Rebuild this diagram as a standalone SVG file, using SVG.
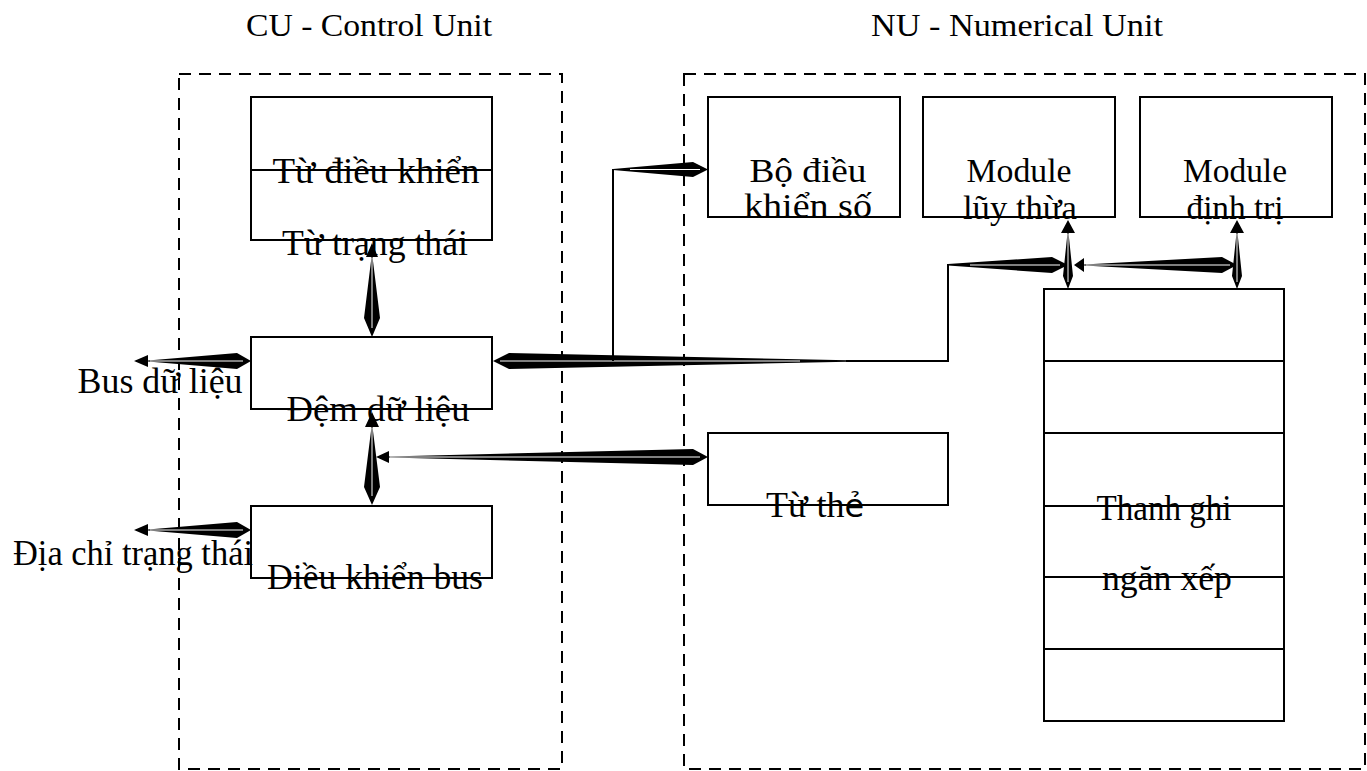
<svg xmlns="http://www.w3.org/2000/svg" width="1367" height="771" viewBox="0 0 1367 771">
<style>
.t{font-family:"Liberation Serif","DejaVu Serif",serif;font-size:36px;fill:#000;text-anchor:middle}
.h{font-size:32px}
.m{font-size:33px}
.s{font-family:"DejaVu Sans",sans-serif;font-size:32px}
.box{fill:none;stroke:#000;stroke-width:2}
.dash{fill:none;stroke:#000;stroke-width:2;stroke-dasharray:12 8}
.arr{fill:#000;stroke:none}
.hl{stroke:#fff;stroke-width:1;fill:none}
.ln{stroke:#000;stroke-width:2;fill:none}
</style>
<rect width="1367" height="771" fill="#fff"/>
<g id="titles">
<text class="t h" x="369" y="36" textLength="246" lengthAdjust="spacingAndGlyphs">CU - Control Unit</text>
<text class="t h" x="1017" y="36" textLength="292" lengthAdjust="spacingAndGlyphs">NU - Numerical Unit</text>
</g>
<g id="cu-frame"><rect class="dash" x="179" y="74" width="383" height="695"/></g>
<g id="nu-frame"><rect class="dash" x="684" y="74" width="681" height="695"/></g>

<g id="connectors">
<polygon class="arr" points="372,243 366,257 371.5,257 364,318 372,337 380,318 372.5,257 378,257"/>
<line class="hl" x1="372" y1="258" x2="372" y2="328"/>
<polygon class="arr" points="372,412 365,427 371.5,427 364,487 372,505 380,487 372.5,427 379,427"/>
<line class="hl" x1="372" y1="428" x2="372" y2="496"/>
<polygon class="arr" points="134,361 148,355 148,360.5 237,353 251,361 237,369 148,361.5 148,367"/>
<line class="hl" x1="150" y1="361" x2="243" y2="361"/>
<polygon class="arr" points="134,530 148,524 148,529.5 237,522 251,530 237,538 148,530.5 148,536"/>
<line class="hl" x1="150" y1="530" x2="243" y2="530"/>
<polygon class="arr" points="376,457 389,451 389,456.5 693,449 708,457 693,465 389,457.5 389,463"/>
<line class="hl" x1="390" y1="457" x2="700" y2="457"/>
<polygon class="arr" points="493,361 509,353 848,360.3 848,361.7 509,369"/>
<line class="hl" x1="500" y1="361" x2="800" y2="361"/>
<polyline class="ln" points="846,361 948,361 948,264"/>
<line class="ln" x1="613" y1="169" x2="613" y2="361"/>
<polygon class="arr" points="613,169 693,162 708,169.5 693,177 613,170"/>
<line class="hl" x1="630" y1="169.5" x2="700" y2="169.5"/>
<polygon class="arr" points="948,264 1052,257 1068,265 1052,273 948,265.5"/>
<line class="hl" x1="970" y1="265" x2="1060" y2="265"/>
<polygon class="arr" points="1068,220 1061,233 1067.5,233 1063,276 1068,289 1073,276 1068.5,233 1075,233"/>
<line class="hl" x1="1068" y1="234" x2="1068" y2="282"/>
<polygon class="arr" points="1074,265 1084,258 1084,264.5 1222,257 1237,265 1222,273 1084,265.5 1084,272"/>
<line class="hl" x1="1086" y1="265" x2="1230" y2="265"/>
<polygon class="arr" points="1237,220 1230,233 1236.5,233 1232,276 1237,289 1242,276 1237.5,233 1244,233"/>
<line class="hl" x1="1237" y1="234" x2="1237" y2="282"/>
</g>

<g id="words">
<rect class="box" x="251" y="97" width="241" height="143"/>
<line class="ln" x1="251" y1="170" x2="492" y2="170"/>
<text class="t" x="376" y="183" textLength="207" lengthAdjust="spacingAndGlyphs">Từ điều khiển</text>
<text class="t" x="375" y="255" textLength="186" lengthAdjust="spacingAndGlyphs">Từ trạng thái</text>
</g>
<g id="buffer">
<rect class="box" x="251" y="337" width="241" height="72"/>
<text class="t" x="378" y="421" textLength="183" lengthAdjust="spacingAndGlyphs">Đệm dữ liệu</text>
</g>
<g id="bus-control">
<rect class="box" x="251" y="506" width="241" height="72"/>
<text class="t" x="375" y="589" textLength="216" lengthAdjust="spacingAndGlyphs">Điều khiển bus</text>
</g>
<g id="label-data-bus"><text class="t" x="160" y="393" textLength="165" lengthAdjust="spacingAndGlyphs">Bus dữ liệu</text></g>
<g id="label-address"><text class="t" x="133" y="565" textLength="240" lengthAdjust="spacingAndGlyphs">Địa chỉ trạng thái</text></g>
<g id="numeric-control">
<rect class="box" x="708" y="97" width="192" height="120"/>
<text class="t m" x="808" y="182" textLength="117" lengthAdjust="spacingAndGlyphs">Bộ điều</text>
<text class="t m" x="808" y="217" textLength="128" lengthAdjust="spacingAndGlyphs">khiển số</text>
</g>
<g id="exp-module">
<rect class="box" x="923" y="97" width="192" height="120"/>
<text class="t m" x="1019" y="182" textLength="105" lengthAdjust="spacingAndGlyphs">Module</text>
<text class="t m" x="1020" y="219" textLength="114" lengthAdjust="spacingAndGlyphs">lũy thừa</text>
</g>
<g id="mantissa-module">
<rect class="box" x="1140" y="97" width="192" height="120"/>
<text class="t m" x="1235" y="182" textLength="104" lengthAdjust="spacingAndGlyphs">Module</text>
<text class="t m" x="1235" y="219" textLength="97" lengthAdjust="spacingAndGlyphs">định trị</text>
</g>
<g id="tag-word">
<rect class="box" x="708" y="433" width="240" height="72"/>
<text class="t" x="815" y="517">Từ th<tspan class="s">ẻ</tspan></text>
</g>
<g id="stack">
<rect class="box" x="1044" y="289" width="240" height="432"/>
<line class="ln" x1="1044" y1="361" x2="1284" y2="361"/>
<line class="ln" x1="1044" y1="433" x2="1284" y2="433"/>
<line class="ln" x1="1044" y1="506" x2="1284" y2="506"/>
<line class="ln" x1="1044" y1="577" x2="1284" y2="577"/>
<line class="ln" x1="1044" y1="649" x2="1284" y2="649"/>
<text class="t" x="1164" y="520" textLength="135" lengthAdjust="spacingAndGlyphs">Thanh ghi</text>
<text class="t" x="1167" y="590" textLength="130" lengthAdjust="spacingAndGlyphs">ngăn xếp</text>
</g>
</svg>
